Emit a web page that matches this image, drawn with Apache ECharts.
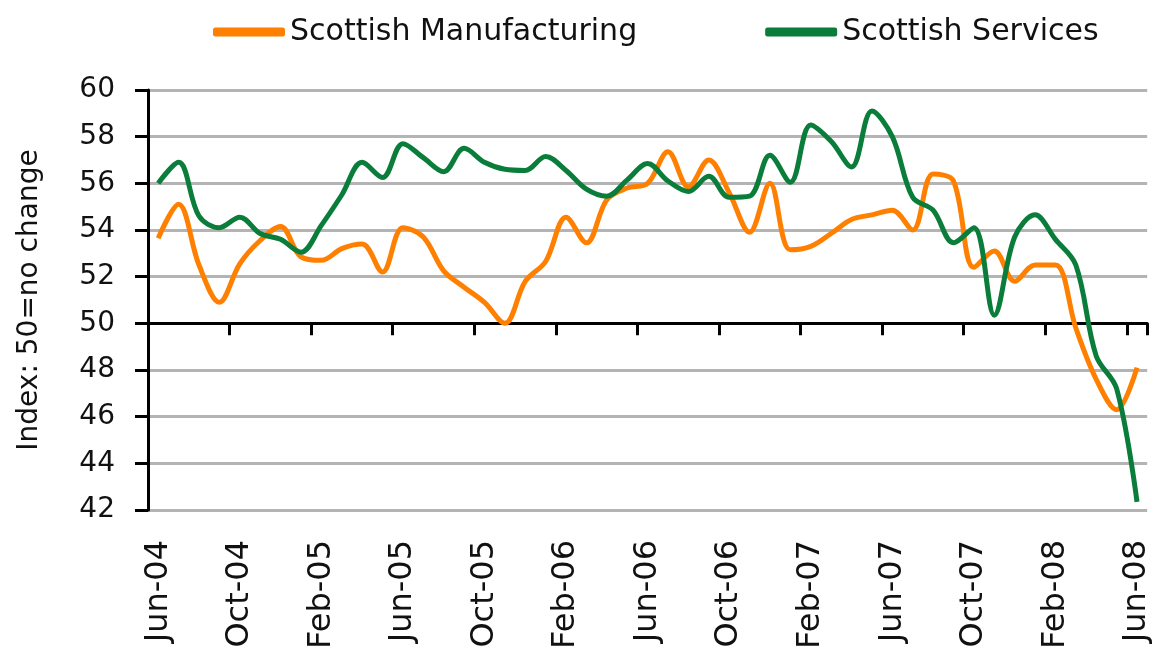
<!DOCTYPE html>
<html>
<head>
<meta charset="utf-8">
<script src="https://cdn.jsdelivr.net/npm/echarts@6/dist/echarts.min.js"></script>
<style>
  html, body { margin: 0; padding: 0; background: #fff; }
  #main { width: 1153px; height: 653px; }
</style>
</head>
<body>
<div id="main"></div>
<script>
// months, Jun-04 .. Jun-08
const months = [
  'Jun-04', 'Jul-04', 'Aug-04', 'Sep-04', 'Oct-04', 'Nov-04', 'Dec-04',
  'Jan-05', 'Feb-05', 'Mar-05', 'Apr-05', 'May-05', 'Jun-05', 'Jul-05',
  'Aug-05', 'Sep-05', 'Oct-05', 'Nov-05', 'Dec-05', 'Jan-06', 'Feb-06',
  'Mar-06', 'Apr-06', 'May-06', 'Jun-06', 'Jul-06', 'Aug-06', 'Sep-06',
  'Oct-06', 'Nov-06', 'Dec-06', 'Jan-07', 'Feb-07', 'Mar-07', 'Apr-07',
  'May-07', 'Jun-07', 'Jul-07', 'Aug-07', 'Sep-07', 'Oct-07', 'Nov-07',
  'Dec-07', 'Jan-08', 'Feb-08', 'Mar-08', 'Apr-08', 'May-08', 'Jun-08'
];

const manufacturing = [
  53.65, 55.1, 52.5, 50.9, 52.55, 53.55, 54.15, 52.85, 52.7, 53.2,
  53.4, 52.2, 54.1, 53.7, 52.25, 51.55, 50.9, 50.0, 51.8, 52.65,
  54.55, 53.45, 55.3, 55.8, 56.0, 57.35, 55.85, 57.0, 55.6, 53.9,
  56.0, 53.15, 53.3, 53.85, 54.45, 54.65, 54.85, 54.0, 56.4, 56.1,
  52.4, 53.1, 51.8, 52.5, 52.5, 49.8, 47.6, 46.3, 48.1
];

const services = [
  56.0, 56.9, 54.6, 54.1, 54.55, 53.85, 53.6, 53.05, 54.2, 55.5,
  56.9, 56.25, 57.7, 57.1, 56.5, 57.5, 56.9, 56.6, 56.55, 57.15,
  56.55, 55.75, 55.45, 56.15, 56.85, 56.1, 55.65, 56.3, 55.4, 55.45,
  57.2, 56.05, 58.5, 57.8, 56.7, 59.1, 58.0, 55.4, 54.85, 53.45,
  54.1, 50.35, 53.7, 54.65, 53.6, 52.5, 48.6, 47.2, 42.35
];

const yMin = 42, yMax = 60, yStep = 2, crossAt = 50;

const font = 'DejaVu Sans';
const chart = echarts.init(document.getElementById('main'));

// grid geometry, used to put the black category axis on the 50 line
const gridTop = 90, gridBottom = 143;
const plotH = 653 - gridTop - gridBottom;
const crossOffset = -plotH * (crossAt - yMin) / (yMax - yMin);

// a tick every 4 months, on the category boundaries
const tickIdx = months.map((m, i) => i).filter(i => i % 4 === 0);

chart.setOption({
  animation: false,
  backgroundColor: '#fff',
  textStyle: { fontFamily: font },
  legend: {
    left: 208,
    top: 12,
    icon: 'roundRect',
    itemWidth: 72,
    itemHeight: 9,
    itemGap: 128,
    textStyle: { fontFamily: font, fontSize: 30, color: '#111' },
    data: ['Scottish Manufacturing', 'Scottish Services']
  },
  grid: { left: 148, right: 5, top: gridTop, bottom: gridBottom },
  xAxis: [
    {
      type: 'category',
      data: months,
      boundaryGap: true,
      axisLine: { show: false },
      axisTick: { show: false },
      splitLine: { show: false },
      axisLabel: {
        interval: 3,
        rotate: 90,
        margin: 30,
        fontFamily: font,
        fontSize: 32,
        color: '#111'
      }
    },
    {
      type: 'category',
      data: months,
      boundaryGap: true,
      position: 'bottom',
      offset: crossOffset,
      axisLine: { show: true, lineStyle: { color: '#000', width: 3 } },
      axisTick: {
        show: true,
        customValues: tickIdx,
        length: 12,
        lineStyle: { color: '#000', width: 3 }
      },
      axisLabel: { show: false },
      splitLine: { show: false }
    }
  ],
  yAxis: {
    type: 'value',
    min: yMin,
    max: yMax,
    interval: yStep,
    name: 'Index: 50=no change',
    nameLocation: 'middle',
    nameGap: 104,
    nameTextStyle: { fontFamily: font, fontSize: 28, color: '#111' },
    axisLine: { show: true, lineStyle: { color: '#000', width: 3 } },
    axisTick: { show: true, length: 13, lineStyle: { color: '#000', width: 3 } },
    axisLabel: { margin: 33, fontFamily: font, fontSize: 28, color: '#111' },
    splitLine: { lineStyle: { color: '#b4b4b4', width: 3 } }
  },
  series: [
    {
      name: 'Scottish Manufacturing',
      type: 'line',
      data: manufacturing,
      smooth: 0.35,
      showSymbol: false,
      color: '#ff8000',
      lineStyle: { width: 5, color: '#ff8000' }
    },
    {
      name: 'Scottish Services',
      type: 'line',
      data: services,
      smooth: 0.35,
      showSymbol: false,
      color: '#0b7d3b',
      lineStyle: { width: 5, color: '#0b7d3b' }
    }
  ]
});
</script>
</body>
</html>
